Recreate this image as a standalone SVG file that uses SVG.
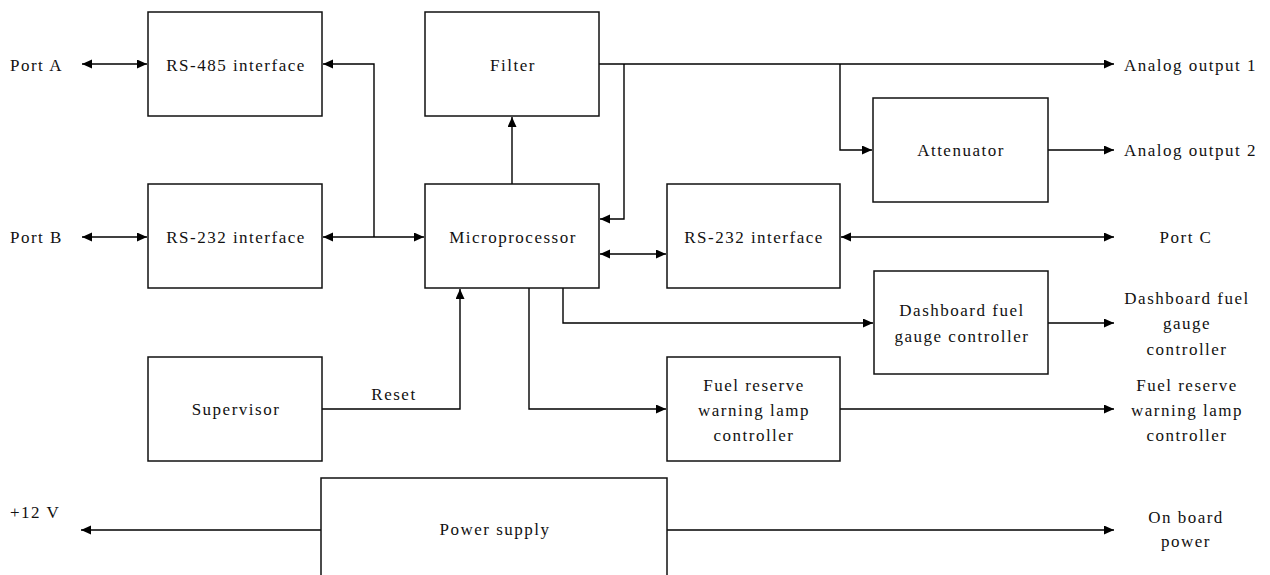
<svg xmlns="http://www.w3.org/2000/svg" width="1270" height="575" viewBox="0 0 1270 575" font-family="'Liberation Serif', 'Times New Roman', Times, 'DejaVu Serif', serif">
<style>
.box{fill:#fff;stroke:#111;stroke-width:1.5}
.ln{fill:none;stroke:#000;stroke-width:1.4}
text{font-family:'Liberation Serif','Times New Roman',Times,'DejaVu Serif',serif;font-size:17px;letter-spacing:1.5px;fill:#111}
.c{text-anchor:middle}
</style>
<defs>
<marker id="ah" markerUnits="userSpaceOnUse" markerWidth="11" markerHeight="10" refX="10" refY="4.5" orient="auto-start-reverse">
<path d="M0,0 L10,4.5 L0,9 z" fill="#000"/>
</marker>
</defs>
<rect width="1270" height="575" fill="#fff"/>
<g id="connectors">
<line class="ln" x1="82" y1="64" x2="147" y2="64" marker-start="url(#ah)" marker-end="url(#ah)"/>
<line class="ln" x1="82" y1="237" x2="147" y2="237" marker-start="url(#ah)" marker-end="url(#ah)"/>
<line class="ln" x1="323" y1="237" x2="424" y2="237" marker-start="url(#ah)" marker-end="url(#ah)"/>
<path class="ln" d="M374,237 V64 H323" marker-end="url(#ah)"/>
<line class="ln" x1="512" y1="184" x2="512" y2="117" marker-end="url(#ah)"/>
<line class="ln" x1="599" y1="64" x2="1114" y2="64" marker-end="url(#ah)"/>
<path class="ln" d="M624,64 V219 H600" marker-end="url(#ah)"/>
<path class="ln" d="M840,64 V150 H872" marker-end="url(#ah)"/>
<line class="ln" x1="1048" y1="150" x2="1114" y2="150" marker-end="url(#ah)"/>
<line class="ln" x1="600" y1="254" x2="666" y2="254" marker-start="url(#ah)" marker-end="url(#ah)"/>
<line class="ln" x1="841" y1="237" x2="1114" y2="237" marker-start="url(#ah)" marker-end="url(#ah)"/>
<path class="ln" d="M563,288 V323 H873" marker-end="url(#ah)"/>
<line class="ln" x1="1048" y1="323" x2="1114" y2="323" marker-end="url(#ah)"/>
<path class="ln" d="M529,288 V409 H666" marker-end="url(#ah)"/>
<line class="ln" x1="840" y1="409" x2="1114" y2="409" marker-end="url(#ah)"/>
<path class="ln" d="M322,409 H460 V289" marker-end="url(#ah)"/>
<line class="ln" x1="321" y1="530" x2="81" y2="530" marker-end="url(#ah)"/>
<line class="ln" x1="667" y1="530" x2="1114" y2="530" marker-end="url(#ah)"/>
</g>
<g id="portA"><text x="10" y="70.5">Port A</text></g>
<g id="rs485"><rect class="box" x="148" y="12" width="174" height="104"/><text class="c" x="236" y="70.5">RS-485 interface</text></g>
<g id="filter"><rect class="box" x="425" y="12" width="174" height="104"/><text class="c" x="513" y="70.5">Filter</text></g>
<g id="ao1"><text x="1124" y="70.5">Analog output 1</text></g>
<g id="attenuator"><rect class="box" x="873" y="98" width="175" height="104"/><text class="c" x="961" y="156">Attenuator</text></g>
<g id="ao2"><text x="1124" y="156">Analog output 2</text></g>
<g id="portB"><text x="10" y="243">Port B</text></g>
<g id="rs232l"><rect class="box" x="148" y="184" width="174" height="104"/><text class="c" x="236" y="243">RS-232 interface</text></g>
<g id="micro"><rect class="box" x="425" y="184" width="174" height="104"/><text class="c" x="513" y="243">Microprocessor</text></g>
<g id="rs232r"><rect class="box" x="667" y="184" width="173" height="104"/><text class="c" x="754" y="243">RS-232 interface</text></g>
<g id="portC"><text class="c" x="1186" y="243">Port C</text></g>
<g id="dashboard"><rect class="box" x="874" y="271" width="174" height="103"/><text class="c" x="962" y="316">Dashboard fuel</text><text class="c" x="962" y="342">gauge controller</text></g>
<g id="dashOut"><text class="c" x="1187" y="304">Dashboard fuel</text><text class="c" x="1187" y="329">gauge</text><text class="c" x="1187" y="355">controller</text></g>
<g id="fuel"><rect class="box" x="667" y="357" width="173" height="104"/><text class="c" x="754" y="391">Fuel reserve</text><text class="c" x="754" y="416">warning lamp</text><text class="c" x="754" y="441">controller</text></g>
<g id="fuelOut"><text class="c" x="1187" y="391">Fuel reserve</text><text class="c" x="1187" y="416">warning lamp</text><text class="c" x="1187" y="441">controller</text></g>
<g id="supervisor"><rect class="box" x="148" y="357" width="174" height="104"/><text class="c" x="236" y="415">Supervisor</text></g>
<g id="resetLabel"><text class="c" x="394" y="400">Reset</text></g>
<g id="v12"><text x="10" y="518">+12 V</text></g>
<g id="power"><rect class="box" x="321" y="478" width="346" height="110"/><text class="c" x="495" y="535">Power supply</text></g>
<g id="onboard"><text class="c" x="1186" y="523">On board</text><text class="c" x="1186" y="547">power</text></g>
</svg>
